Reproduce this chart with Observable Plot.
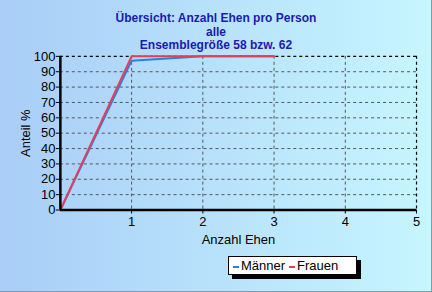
<!DOCTYPE html>
<html><head><meta charset="utf-8">
<script src="https://cdn.jsdelivr.net/npm/d3@7"></script>
<script src="https://cdn.jsdelivr.net/npm/@observablehq/plot@0.6"></script>
<style>
html,body{margin:0;padding:0;}
#wrap{position:relative;width:432px;height:292px;overflow:hidden;box-sizing:border-box;border-right:1px solid #8a9aa8;border-bottom:1px solid #8a9aa8;
background:linear-gradient(to right,#a9cdf7,#c6f6ff);font-family:"Liberation Sans",Arial,sans-serif;}
#title{position:absolute;left:0;width:432px;top:12px;text-align:center;color:#1a1ab4;font-weight:bold;font-size:12px;line-height:13.5px;}
#chart{position:absolute;left:0;top:0;}
#legend{position:absolute;left:228px;top:256px;width:127px;height:17px;background:#fff;border:1px solid #000;box-shadow:4px 4px 0 #000;font-size:13px;line-height:17px;white-space:nowrap;}
#legend span.sw{display:inline-block;width:6px;height:2px;vertical-align:middle;margin:0 2px 0 4px;}
</style></head>
<body>
<div id="wrap">
<div id="chart"></div>
<div id="title">Übersicht: Anzahl Ehen pro Person<br>alle<br>Ensemblegröße 58 bzw. 62</div>
<div id="legend"><span class="sw" style="background:#2f7fd8"></span>Männer<span class="sw" style="background:#e0405a"></span>Frauen</div>
</div>
<script>
const ehen = [0, 1, 2, 3];
const maenner = [0, 97.2, 100, 100];
const frauen = [0, 100, 100, 100];
const xTicks = [1, 2, 3, 4, 5];
const yTicks = [0, 10, 20, 30, 40, 50, 60, 70, 80, 90, 100];

const m = ehen.map((x, i) => ({x, y: maenner[i]}));
const f = ehen.map((x, i) => ({x, y: frauen[i]}));

const chart = Plot.plot({
  width: 432, height: 292,
  marginLeft: 60, marginRight: 15, marginTop: 56, marginBottom: 82,
  style: {background: "transparent", fontFamily: "Liberation Sans, Arial, sans-serif", fontSize: "13px", color: "#000"},
  x: {domain: [0, 5]},
  y: {domain: [0, 100]},
  marks: [
    Plot.gridX([1, 2, 3, 4], {stroke: "#555", strokeOpacity: 1, strokeDasharray: "3,3", strokeWidth: 1}),
    Plot.gridY(yTicks.slice(1, -1), {stroke: "#555", strokeOpacity: 1, strokeDasharray: "3,3", strokeWidth: 1}),
    Plot.ruleY([100], {stroke: "#000", strokeDasharray: "3,3", strokeWidth: 1.2}),
    Plot.ruleX([5], {stroke: "#000", strokeDasharray: "3,3", strokeWidth: 1.2}),
    Plot.axisX({ticks: xTicks, tickFormat: d3.format("d"), fontSize: 13, tickSize: 4, tickPadding: 3, label: "Anzahl Ehen", labelAnchor: "center", labelOffset: 34, labelArrow: false}),
    Plot.axisY({ticks: yTicks, tickFormat: d3.format("d"), fontSize: 13, tickSize: 4, tickPadding: 1, label: "Anteil %", labelAnchor: "center", labelOffset: 40, labelArrow: false}),
    Plot.line(m, {x: "x", y: "y", stroke: "#2f7fd8", strokeWidth: 2}),
    Plot.line(f, {x: "x", y: "y", stroke: "#e0405a", strokeWidth: 2}),
    Plot.ruleX([0], {stroke: "#000", strokeWidth: 2.5}),
    Plot.ruleY([0], {stroke: "#000", strokeWidth: 2.5})
  ]
});
document.getElementById("chart").appendChild(chart);
</script>
</body></html>
